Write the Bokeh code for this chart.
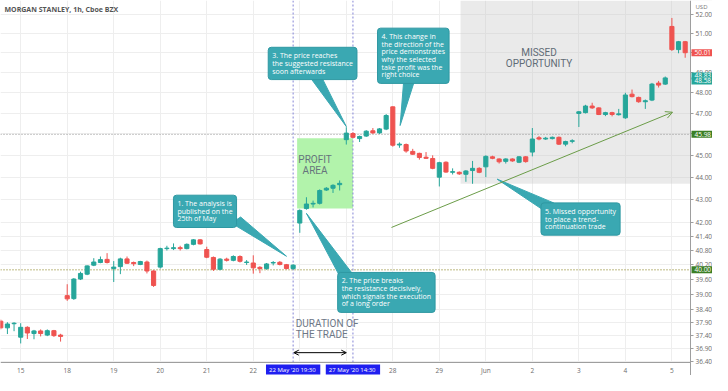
import math
from bokeh.plotting import figure
from bokeh.models import (Range1d, FixedTicker, Span, Label, BoxAnnotation, Arrow,
                          OpenHead, ColumnDataSource, PrintfTickFormatter)
from bokeh.embed import file_html
from bokeh.resources import INLINE

# ---------------- data ----------------
bar_index = list(range(-3, 101))
opens = [37.94, 37.68, 37.84, 37.32, 37.70, 37.46, 37.56, 37.40, 37.57, 37.40,
         38.95, 38.83, 39.62, 39.82, 40.19, 40.30, 40.43,
         40.05, 40.13, 40.45, 40.30, 40.22, 40.32, 39.95,
         40.11, 40.88, 40.88, 40.92, 40.88, 41.06, 41.25,
         40.84, 40.51, 40.02, 40.44, 40.39, 40.55, 40.30,
         40.28, 40.10, 40.05, 40.28, 40.31, 40.21, 40.05,
         41.97, 42.60, 42.80, 42.83, 43.42, 43.50, 43.66,
         45.73, 46.02, 45.78, 45.90, 46.15, 46.05, 46.23,
         47.30, 45.48, 45.50, 45.18, 45.09, 44.91, 44.85,
         44.00, 44.68, 44.22, 44.22, 44.13, 44.30, 44.40,
         44.47, 44.93, 44.83, 44.72, 44.83, 44.68, 44.93,
         45.15, 45.82, 45.76, 45.78, 45.84, 45.52, 45.65,
         46.98, 47.02, 47.34, 47.25, 46.93, 47.02, 46.92,
         46.77, 47.92, 47.76, 47.55, 47.63, 48.47, 48.42,
         51.38, 50.17, 50.58]
highs = [38.00, 37.90, 37.90, 37.86, 37.74, 37.60, 37.62, 37.62, 37.60, 37.45,
         39.41, 39.66, 39.92, 40.18, 40.48, 40.55, 40.69,
         40.36, 40.50, 40.55, 40.34, 40.37, 40.38, 39.98,
         40.92, 41.00, 41.10, 41.00, 41.10, 41.28, 41.28,
         40.96, 40.55, 40.48, 40.50, 40.60, 40.60, 40.40,
         40.60, 40.15, 40.28, 40.36, 40.36, 40.24, 40.22,
         42.56, 43.10, 42.95, 43.45, 43.55, 43.68, 43.85,
         46.32, 46.08, 45.92, 46.18, 46.28, 46.28, 46.95,
         47.32, 45.60, 45.55, 45.30, 45.12, 45.15, 45.00,
         44.70, 44.72, 44.40, 44.26, 44.32, 44.74, 44.45,
         45.00, 44.98, 44.86, 44.86, 44.86, 44.96, 44.96,
         46.28, 45.90, 45.86, 45.88, 45.88, 45.68, 45.75,
         47.10, 47.40, 47.50, 47.28, 47.06, 47.06, 47.20,
         47.99, 48.15, 47.80, 47.66, 48.48, 48.58, 48.80,
         51.83, 50.62, 50.62]
lows = [37.62, 37.44, 37.55, 37.08, 37.25, 37.24, 37.35, 37.36, 37.33, 37.15,
        38.74, 38.78, 39.58, 39.78, 40.15, 40.27, 40.26,
        39.50, 39.82, 40.24, 40.15, 40.19, 39.85, 39.30,
        40.05, 40.80, 40.82, 40.80, 40.85, 41.02, 41.05,
        40.48, 39.95, 39.98, 40.34, 40.35, 40.30, 40.20,
        39.84, 39.86, 40.00, 40.18, 40.18, 40.02, 40.00,
        41.55, 42.55, 42.65, 42.78, 43.38, 43.29, 43.40,
        45.50, 45.80, 45.62, 45.86, 46.00, 46.00, 46.18,
        45.40, 45.35, 45.12, 45.02, 44.80, 44.84, 44.36,
        43.58, 44.20, 44.12, 44.10, 43.79, 43.70, 44.18,
        44.00, 44.82, 44.62, 44.62, 44.70, 44.64, 44.66,
        44.95, 45.70, 45.72, 45.74, 45.48, 45.42, 45.56,
        46.33, 46.98, 47.20, 46.90, 46.85, 46.84, 46.88,
        46.72, 47.76, 47.50, 47.20, 47.58, 48.25, 48.38,
        50.10, 49.98, 49.75]
closes = [37.68, 37.83, 37.86, 37.70, 37.48, 37.56, 37.46, 37.57, 37.38, 37.35,
          38.82, 39.62, 39.85, 40.16, 40.32, 40.42, 40.30,
          40.11, 40.45, 40.27, 40.25, 40.34, 39.95, 39.36,
          40.88, 40.90, 40.92, 40.88, 41.06, 41.25, 41.08,
          40.52, 40.02, 40.44, 40.39, 40.55, 40.35, 40.32,
          40.08, 40.05, 40.24, 40.30, 40.22, 40.05, 40.19,
          42.52, 42.80, 42.83, 43.40, 43.50, 43.63, 43.72,
          46.04, 45.84, 45.88, 46.13, 46.05, 46.24, 46.88,
          45.47, 45.52, 45.20, 45.05, 44.90, 44.86, 44.40,
          44.66, 44.23, 44.25, 44.15, 44.28, 44.40, 44.22,
          44.95, 44.86, 44.70, 44.83, 44.74, 44.93, 44.71,
          45.76, 45.76, 45.80, 45.84, 45.52, 45.64, 45.68,
          47.06, 47.34, 47.25, 46.93, 47.02, 46.93, 46.96,
          47.88, 47.80, 47.55, 47.60, 48.42, 48.37, 48.73,
          50.17, 50.58, 50.01]

day_tick_index = [0, 7, 14, 21, 28, 35, 42, 49, 56, 63, 70, 77, 84, 91, 98]
day_tick_labels = ["15", "18", "19", "20", "21", "22", "26", "27", "28", "29",
                   "Jun", "2", "3", "4", "5"]
price_ticks = [36.40, 36.90, 37.40, 37.90, 38.40, 39.00, 39.60, 40.20, 40.80,
               41.40, 42.00, 43.00, 44.00, 45.00, 46.00, 47.00, 48.00, 49.00,
               50.00, 51.00, 52.00]
price_tags = [50.01, 48.83, 48.58, 45.98, 40.00]
price_tag_colors = ["#ef5350", "#26a69a", "#26a69a", "#3b7f25", "#3b7f25"]

entry_bar = 41      # 22 May '20 19:30
exit_bar = 50       # 27 May '20 14:30
resistance = 45.98
support = 40.00

UP = "#26a69a"
DOWN = "#ef5350"
TEAL_BOX = "#3aa8b2"
FONT = "Open Sans"
CAP_FONT = "Roboto"

# ---------------- geometry ----------------
W, H = 712, 375            # whole canvas = plot frame
AXIS_PX_X, AXIS_PX_Y = 690, 362   # where the price / time axes sit
X0, X_AXIS = -3.04, 100.8          # visible bars up to the price axis
Y_AXIS, Y1 = 36.36, 52.77          # visible prices down to the time axis
X_END = X_AXIS + (W - AXIS_PX_X) * (X_AXIS - X0) / AXIS_PX_X
Y_BOTTOM = math.exp(math.log(Y_AXIS) -
                    (H - AXIS_PX_Y) * (math.log(Y1) - math.log(Y_AXIS)) / AXIS_PX_Y)

# ---------------- figure ----------------
p = figure(width=W, height=H, x_range=Range1d(X0, X_END), y_range=Range1d(Y_BOTTOM, Y1),
           y_axis_type="log", y_axis_location="right",
           output_backend="svg", toolbar_location=None,
           min_border_left=0, min_border_top=0, min_border_bottom=0, min_border_right=0)
p.outline_line_color = None
p.background_fill_color = "white"
p.border_fill_color = "white"

p.xaxis.ticker = FixedTicker(ticks=day_tick_index)
p.xaxis.major_label_overrides = {t: l for t, l in zip(day_tick_index, day_tick_labels)}
p.yaxis.ticker = FixedTicker(ticks=price_ticks)
p.yaxis.formatter = PrintfTickFormatter(format="%.2f")
p.xaxis.fixed_location = Y_AXIS
p.yaxis.fixed_location = X_AXIS
p.xaxis.bounds = (X0, X_AXIS)
for ax in (p.xaxis, p.yaxis):
    ax.axis_line_color = "#9e9e9e"
    ax.major_tick_line_color = "#9e9e9e"
    ax.minor_tick_line_color = None
    ax.major_label_text_font_size = "6.5px"
    ax.major_label_text_color = "#6b6b6b"
    ax.major_label_text_font = FONT
p.yaxis.major_tick_out = 3
p.yaxis.major_tick_in = 0
p.yaxis.major_label_standoff = 2
p.xaxis.major_tick_out = 0
p.xaxis.major_tick_in = 0
p.xaxis.major_label_standoff = 3
p.xgrid.grid_line_color = "#eeeeee"
p.ygrid.grid_line_color = "#eeeeee"

# shaded regions
p.add_layout(BoxAnnotation(left=66.2, bottom=43.7, fill_color="#c8c8c8", fill_alpha=0.38,
                           line_color=None, level="underlay"))
p.add_layout(BoxAnnotation(left=41.6, right=50.0, bottom=42.6, top=45.80,
                           fill_color="#b2f3ab", fill_alpha=1.0, line_color=None,
                           level="underlay"))

# level lines
p.add_layout(Span(location=resistance, dimension="width", line_color="#8f8f8f",
                  line_dash="1 2", line_width=1, level="underlay"))
p.add_layout(Span(location=support, dimension="width", line_color="#a8a25a",
                  line_dash="1 2", line_width=1.3, level="underlay"))
for b in (entry_bar, exit_bar):
    p.add_layout(Span(location=b, dimension="height", line_color="#8585d6",
                      line_dash="2 2", line_width=1, level="underlay"))

# candles
src = ColumnDataSource(dict(
    x=bar_index, o=opens, h=highs, l=lows, c=closes,
    top=[max(a, b) for a, b in zip(opens, closes)],
    bot=[min(a, b) for a, b in zip(opens, closes)],
    col=[UP if c >= o else DOWN for o, c in zip(opens, closes)],
))
p.segment(x0="x", y0="h", x1="x", y1="l", color="col", line_width=1, source=src)
p.vbar(x="x", width=0.62, top="top", bottom="bot", fill_color="col", line_color="col",
       line_width=1, source=src)

# keep the axis label strips clean (grid and level lines stop at the axes)
p.add_layout(BoxAnnotation(left=X_AXIS, fill_color="white", fill_alpha=1.0,
                           line_color=None, level="glyph"))
p.add_layout(BoxAnnotation(top=Y_AXIS, fill_color="white", fill_alpha=1.0,
                           line_color=None, level="glyph"))

# trend arrow
p.add_layout(Arrow(x_start=55.8, y_start=41.78, x_end=98.1, y_end=47.04,
                   line_color="#6b9c48", line_width=1,
                   end=OpenHead(size=7, line_color="#6b9c48", line_width=1)))

# duration arrow
p.add_layout(Arrow(x_start=41.1, y_start=36.73, x_end=49.0, y_end=36.73,
                   line_color="black", line_width=1,
                   start=OpenHead(size=5, line_width=1), end=OpenHead(size=5, line_width=1)))

# callout pointers
pointer_xs = [[31.7, 33.1, 40.0], [48.1, 49.9, 43.0], [43.4, 45.2, 49.0],
              [57.7, 59.5, 57.1], [78.3, 80.2, 71.7]]
pointer_ys = [[41.97, 42.23, 40.56], [39.69, 39.85, 42.39], [48.83, 48.83, 46.35],
              [48.83, 48.83, 46.40], [42.60, 42.85, 43.91]]
p.patches(pointer_xs, pointer_ys, fill_color=TEAL_BOX, line_color=TEAL_BOX)

callouts = [
    (22.99, 43.19, "1. The analysis is\npublished on the\n25th of May"),
    (47.7, 39.89, "2. The price breaks\nthe resistance decisively,\nwhich signals the execution\nof a long order"),
    (37.25, 50.29, "3. The price reaches\nthe suggested resistance\nsoon afterwards"),
    (53.7, 51.29, "4. This change in\nthe direction of the\nprice demonstrates\nwhy the selected\ntake profit was the\nright choice"),
    (78.3, 42.85, "5. Missed opportunity\nto place a trend-\ncontinuation trade"),
]
for cx, cy, txt in callouts:
    p.add_layout(Label(x=cx, y=cy, text=txt, anchor="top_left", text_align="left",
                       text_font=FONT, text_font_size="7px", text_color="white",
                       text_line_height=0.85,
                       background_fill_color=TEAL_BOX, border_line_color="#2f98a2",
                       padding=4, border_radius=3))

# region captions
p.add_layout(Label(x=44.3, y=45.05, text="PROFIT\nAREA", anchor="top_center",
                   text_align="center", text_font=CAP_FONT, text_font_size="10px",
                   text_color="#66737c", text_line_height=0.95))
p.add_layout(Label(x=78.0, y=50.29, text="MISSED\nOPPORTUNITY", anchor="top_center",
                   text_align="center", text_font=CAP_FONT, text_font_size="10px",
                   text_color="#5f6b76", text_line_height=0.95))
p.add_layout(Label(x=41.4, y=38.05, text="DURATION OF\nTHE TRADE", anchor="top_left",
                   text_align="left", text_font=CAP_FONT, text_font_size="10px",
                   text_color="#6d7786", text_line_height=1.0))

# title
p.add_layout(Label(x=X0, y=Y1, x_offset=4, y_offset=-4, text="MORGAN STANLEY, 1h, Cboe BZX",
                   anchor="top_left", text_font=FONT, text_font_size="7px",
                   text_font_style="bold", text_color="#555555"))

# currency, price tags and time tags on the axes
p.add_layout(Label(x=X_AXIS, y=Y1, x_offset=5, y_offset=-2, text="USD", anchor="top_left",
                   text_font=FONT, text_font_size="6px", text_color="#777777"))
for val, col in zip(price_tags, price_tag_colors):
    p.add_layout(Label(x=X_AXIS, y=val, x_offset=1, text=f"{val:.2f}", anchor="center_left",
                       text_font=FONT, text_font_size="6.5px", text_color="white",
                       background_fill_color=col, padding=(3, 1)))
for b, txt in ((entry_bar, "22 May '20  19:30"), (exit_bar, "27 May '20  14:30")):
    p.add_layout(Label(x=b, y=Y_AXIS, y_offset=-2, text=txt, anchor="top_center",
                       text_font=FONT, text_font_size="6px", text_color="white",
                       background_fill_color="#1f1ff0", padding=(3, 1)))

open("out.html", "w").write(file_html(p, INLINE))
